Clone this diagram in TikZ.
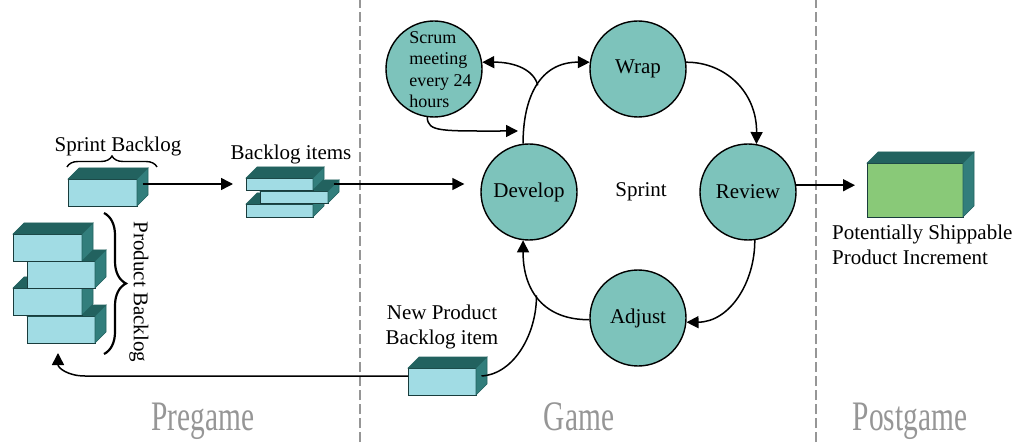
\documentclass[tikz,border=0pt]{standalone}
\usepackage{fontspec}
\usepackage{graphicx}
\setmainfont{Liberation Serif}
\usetikzlibrary{arrows.meta,calc,decorations.pathreplacing}

\definecolor{stage}{RGB}{125,195,187}
\definecolor{boxfront}{RGB}{161,220,228}
\definecolor{boxtop}{RGB}{34,98,95}
\definecolor{boxside}{RGB}{50,126,124}
\definecolor{boxedge}{RGB}{25,60,60}
\definecolor{shipfront}{RGB}{137,201,120}
\definecolor{phase}{RGB}{150,150,150}

% 3-D block: name, centre x, centre y, width, height, front colour
\newcommand\cuboid[6]{%
  \node[front, fill=#6, minimum width=#4pt, minimum height=#5pt] (#1) at (#2,#3) {};
  \filldraw[topface] (#1.north west) -- ++(11,11) -- ++(#4,0) -- (#1.north east) -- cycle;
  \filldraw[sideface] (#1.north east) -- ++(11,11) -- ++(0,-#5) -- (#1.south east) -- cycle;
  \coordinate (#1-side) at ($(#1.east)+(5.5,5.5)$);
}

\begin{document}
\begin{tikzpicture}[x=1pt,y=1pt,
  every node/.style={font=\fontsize{21}{25}\selectfont},
  front/.style={rectangle, draw=boxedge, line width=0.9pt, inner sep=0pt, outer sep=0pt},
  topface/.style={fill=boxtop, draw=boxtop, line width=0.6pt},
  sideface/.style={fill=boxside, draw=boxtop, line width=0.6pt},
  stagenode/.style={circle, draw=black, fill=stage, line width=1.4pt,
    minimum size=96pt, inner sep=0pt},
  arr/.style={line width=1.5pt, -{Triangle[length=12pt,width=12pt]}},
  link/.style={line width=1.5pt},
  divider/.style={draw=phase, line width=1.2pt, dash pattern=on 10pt off 4pt},
  phasetxt/.style={text=phase, anchor=base, inner sep=0pt,
    font=\fontsize{42}{42}\selectfont},
  scrumtxt/.style={align=left, inner sep=0pt, font=\fontsize{18}{21.5}\selectfont}
]
\useasboundingbox (0,0) rectangle (1014,442);

% phase dividers
\draw[divider] (360,0) -- (360,442);
\draw[divider] (816,0) -- (816,442);

% phase titles
\node[phasetxt] (lpre)  at (203,12) {\scalebox{0.7}[1]{Pregame}};
\node[phasetxt] (lgame) at (579,12) {\scalebox{0.7}[1]{Game}};
\node[phasetxt] (lpost) at (910,12) {\scalebox{0.7}[1]{Postgame}};

% product backlog stack (bottom block first)
\cuboid{pD}{61}{112.5}{68}{27}{boxfront}
\cuboid{pC}{47.5}{140.5}{69}{27}{boxfront}
\cuboid{pB}{61}{167.5}{68}{27}{boxfront}
\cuboid{pA}{47.5}{194.5}{69}{27}{boxfront}

% sprint backlog block
\cuboid{sb}{102.5}{249.5}{69}{27}{boxfront}

% backlog items
\cuboid{bi3}{279.5}{231.5}{67}{13}{boxfront}
\cuboid{bi2}{294}{245}{68}{12}{boxfront}
\cuboid{bi1}{279.5}{258}{67}{12}{boxfront}

% new product backlog item
\cuboid{np}{442}{60.5}{68}{27}{boxfront}

% shippable increment
\cuboid{ps}{915}{252}{96}{54}{shipfront}

% labels of the blocks
\node (lsb) at (118,296) {Sprint Backlog};
\draw[decorate, decoration={brace, amplitude=11pt}, line width=1.4pt]
  (67,275) -- (157,275);
\node (lbi) at (291,288) {Backlog items};
\node[rotate=-90] (lpb) at (139,150) {Product Backlog};
\draw[decorate, decoration={brace, amplitude=22pt}, line width=2.2pt]
  (104,229) -- (104,88);
\node[align=center] (lnp) at (442,115) {New Product\\Backlog item};
\node[align=left, anchor=west, inner sep=0pt] (lps) at (832,197)
  {Potentially Shippable\\Product Increment};

% sprint cycle
\node[stagenode] (scrum) at (434,373) {};
\node[scrumtxt] (scrumt) at (440.5,372.5) {Scrum\\meeting\\every 24\\hours};
\node[stagenode] (wrap) at (638,373) {Wrap};
\node[stagenode] (dev)  at (529,250) {Develop};
\node[stagenode] (rev)  at (748,250) {Review};
\node[stagenode] (adj)  at (638,124) {Adjust};
\node (lsprint) at (641,250) {Sprint};

\coordinate (mtg) at (518,311);
\coordinate (pbret) at ($(pD.south)+(-3,-10)$);

% flow between the blocks
\draw[arr] (sb-side |- bi1.west) -- ($(bi1.west)+(-13,0)$);
\draw[arr] (bi2-side |- bi1.center) -- ($(dev.west |- bi1.center)+(-16,0)$);
\draw[arr] (rev.8) -- ($(ps.west |- rev.8)+(-12,0)$);

% cycle connectors
\draw[arr] (dev.97) .. controls (523,345) and (540,380) .. (wrap.172)
  coordinate[pos=0.5] (split);
\draw[arr] (split) .. controls (534,372) and (515,380) .. (scrum.8);
\draw[arr] (scrum.-98) .. controls (428,310) and (440,311) .. (mtg);
\draw[arr] (wrap.8) .. controls (725,380) and (757,350) .. (rev.80);
\draw[arr] (rev.-82) .. controls (755,160) and (730,120) .. (adj.-5);
\draw[arr] (adj.182) .. controls (545,122) and (523,150) .. (dev.-97)
  coordinate[pos=0.55] (join);

% new backlog item feeding in and returning to the product backlog
\draw[link] (np-side) .. controls (515,68) and (537,110) .. (join);
\draw[arr] (np.west |- np-side) -- (85,66) .. controls (68,66) and (58,74) .. (pbret);
\end{tikzpicture}
\end{document}
